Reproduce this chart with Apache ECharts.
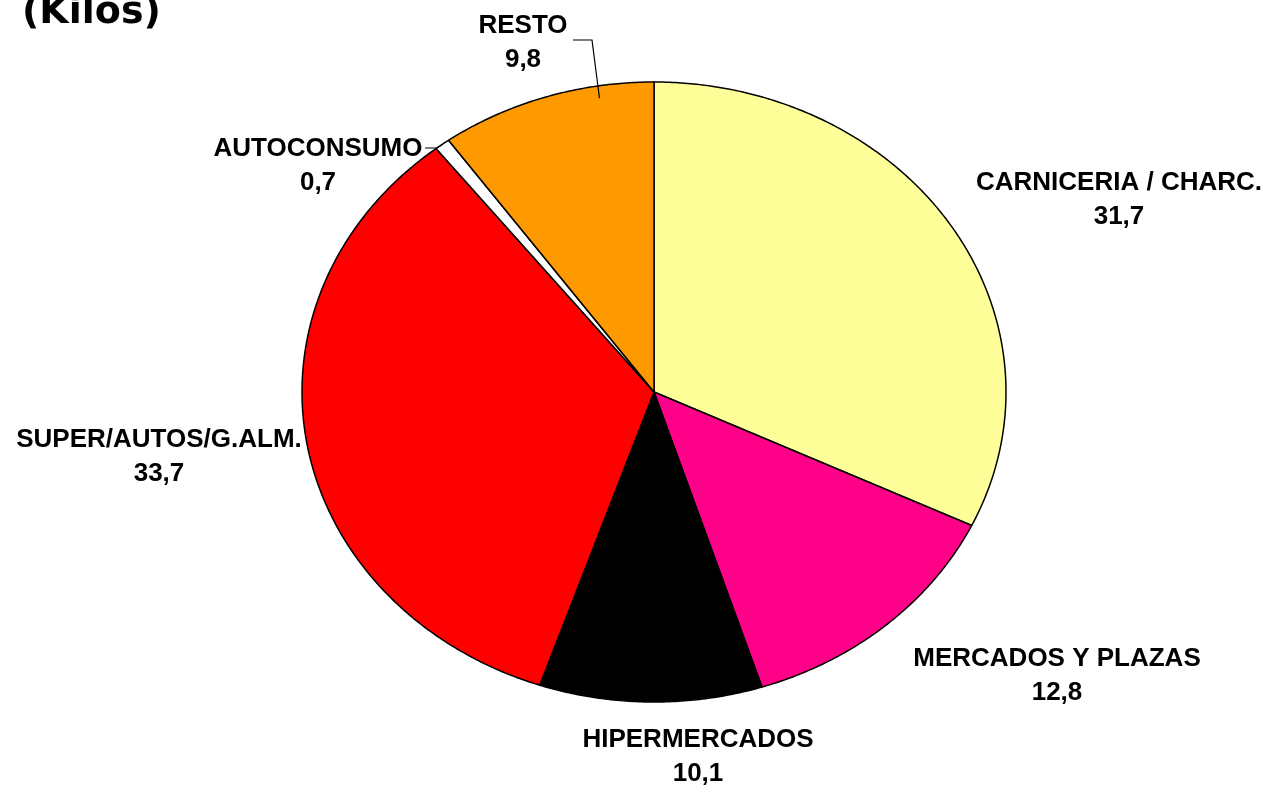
<!DOCTYPE html>
<html>
<head>
<meta charset="utf-8">
<script src="https://cdn.jsdelivr.net/npm/echarts@6/dist/echarts.min.js"></script>
<style>
  html, body { margin: 0; padding: 0; background: #fff; }
  #main { width: 1269px; height: 787px; }
</style>
</head>
<body>
<div id="main"></div>
<script>
// datos (kilos, %)
const categories = ['CARNICERIA / CHARC.', 'MERCADOS Y PLAZAS', 'HIPERMERCADOS', 'SUPER/AUTOS/G.ALM.', 'AUTOCONSUMO', 'RESTO']
const values = [31.7, 12.8, 10.1, 33.7, 0.7, 9.8]

// estilo / layout
const sliceColors = ['#ffff99', '#ff0088', '#000000', '#ff0000', '#ffffff', '#ff9900']
const pie = { cx: 654, cy: 392, rx: 352, ry: 310 }
const labelPos = [[1119, 200], [1057, 676], [698, 757], [159, 457], [318, 166], [523, 43]]
const leaders = {
  4: { from: [425, 148], elbow: [437, 148], frac: 0.5, r: 1 },
  5: { from: [573, 40], elbow: [592, 40], frac: 0.74, r: 0.96 }
}

const total = values.reduce((a, b) => a + b, 0)
const fmt = v => v.toFixed(1).replace('.', ',')

function ellipsePoint(deg, r) {
  const a = deg * Math.PI / 180
  return [pie.cx + pie.rx * r * Math.sin(a), pie.cy - pie.ry * r * Math.cos(a)]
}

function renderItem(params, api) {
  const i = params.dataIndex
  let before = 0
  for (let k = 0; k < i; k++) before += values[k]
  const a0 = before / total * 360
  const a1 = (before + api.value(0)) / total * 360

  const pts = [[pie.cx, pie.cy]]
  const steps = Math.max(2, Math.ceil((a1 - a0) / 0.5))
  for (let s = 0; s <= steps; s++) {
    pts.push(ellipsePoint(a0 + (a1 - a0) * s / steps, 1))
  }

  const children = [{
    type: 'polygon',
    shape: { points: pts },
    style: { fill: sliceColors[i], stroke: '#000', lineWidth: 1.5, lineJoin: 'round' }
  }, {
    type: 'text',
    x: labelPos[i][0],
    y: labelPos[i][1],
    style: {
      text: categories[i] + '\n' + fmt(api.value(0)),
      fill: '#000',
      font: 'bold 26px "Liberation Sans", Arial, sans-serif',
      lineHeight: 34,
      align: 'center',
      verticalAlign: 'middle'
    }
  }]

  const ld = leaders[i]
  if (ld) {
    const end = ellipsePoint(a0 + (a1 - a0) * ld.frac, ld.r)
    children.push({
      type: 'polyline',
      shape: { points: [ld.from, ld.elbow, end] },
      style: { stroke: '#000', lineWidth: 1.2, fill: null }
    })
  }

  return { type: 'group', children }
}

const chart = echarts.init(document.getElementById('main'))
chart.setOption({
  animation: false,
  graphic: [{
    type: 'text',
    left: 22,
    top: -6,
    style: {
      text: '(Kilos)',
      fill: '#000',
      font: 'bold 38px "DejaVu Sans", Verdana, sans-serif'
    }
  }],
  series: [{
    type: 'custom',
    coordinateSystem: 'none',
    renderItem,
    data: values.map(v => [v])
  }]
})
</script>
</body>
</html>
